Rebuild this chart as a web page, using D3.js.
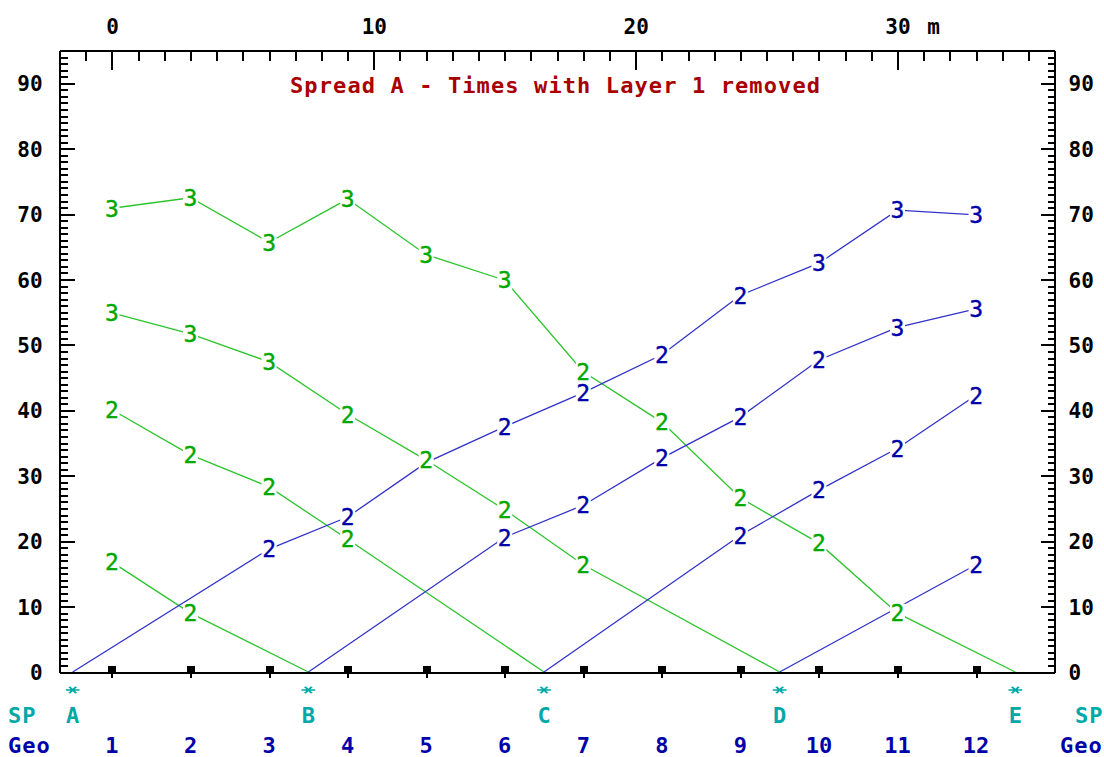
<!DOCTYPE html>
<html>
<head>
<meta charset="utf-8">
<script src="https://cdn.jsdelivr.net/npm/d3@7"></script>
<style>
  body { margin: 0; background: #fff; }
  svg { display: block; }
</style>
</head>
<body>
<svg id="chart" width="1104" height="757"></svg>
<script>
// ---- data -------------------------------------------------------------
const distTicks = [0, 10, 20, 30];                 // metres along the spread
const timeTicks = [0, 10, 20, 30, 40, 50, 60, 70, 80, 90]; // ms
const geophones = [1, 2, 3, 4, 5, 6, 7, 8, 9, 10, 11, 12];
const geophonePos = [0, 3, 6, 9, 12, 15, 18, 21, 24, 27, 30, 33];
const shotNames = ["A", "B", "C", "D", "E"];
const shotPos = [-1.5, 7.5, 16.5, 25.5, 34.5];

// arrival times (ms) at geophones 1..12 for each shot, null = layer 1 pick removed
const timesA = [null, null, 18.8, 23.7, 32.0, 37.5, 42.7, 48.5, 57.6, 62.5, 70.6, 69.9];
const timesB = [16.8, 9.0, null, null, null, 20.6, 25.5, 32.7, 39.0, 47.7, 52.7, 55.5];
const timesC = [40.1, 33.2, 28.3, 20.3, null, null, null, null, 20.9, 27.8, 34.2, 42.3];
const timesD = [54.9, 51.7, 47.4, 39.4, 32.4, 24.8, 16.4, null, null, null, null, 16.4];
const timesE = [70.9, 72.5, 65.7, 72.3, 63.8, 59.9, 45.9, 38.2, 26.6, 19.7, 9.0, null];

// refractor layer assigned to each pick (0 = no layer number printed)
const layersA = [0, 0, 2, 2, 0, 2, 2, 2, 2, 3, 3, 3];
const layersB = [2, 2, 0, 0, 0, 2, 2, 2, 2, 2, 3, 3];
const layersC = [2, 2, 2, 2, 0, 0, 0, 0, 2, 2, 2, 2];
const layersD = [3, 3, 3, 2, 2, 2, 2, 0, 0, 0, 0, 2];
const layersE = [3, 3, 3, 3, 3, 3, 2, 2, 2, 2, 2, 0];

const allTimes = [timesA, timesB, timesC, timesD, timesE];
const allLayers = [layersA, layersB, layersC, layersD, layersE];

// ---- layout -----------------------------------------------------------
const svg = d3.select("#chart");
const x = d3.scaleLinear().domain([-2, 36]).range([59.6, 1054.6]);
const y = d3.scaleLinear().domain([0, 95]).range([672, 50.6]);

const MONO = "'DejaVu Sans Mono', 'Liberation Mono', monospace";
const BLUE_TXT = "#0000a8", BLUE_LN = "#3232c8";
const GREEN_TXT = "#00a800", GREEN_LN = "#2cc42c";
const TEAL = "#00a8a8", RED = "#a80000";

// ---- series: forward (blue) and reverse (green) branches for each shot -
const branches = [];
shotNames.forEach((name, s) => {
  const picks = [];
  geophones.forEach((g, i) => {
    const t = allTimes[s][i];
    if (t != null) picks.push({ d: geophonePos[i], t, layer: allLayers[s][i] });
  });
  const origin = { d: shotPos[s], t: 0 };
  const fwd = picks.filter(p => p.d > shotPos[s]);
  const rev = picks.filter(p => p.d < shotPos[s]);
  if (rev.length) branches.push({ dir: "rev", pts: [...rev, origin], picks: rev });
  if (fwd.length) branches.push({ dir: "fwd", pts: [origin, ...fwd], picks: fwd });
});

const line = d3.line().x(p => x(p.d)).y(p => y(p.t));
const gLines = svg.append("g");
["rev", "fwd"].forEach(dir => {
  gLines.selectAll(null)
    .data(branches.filter(b => b.dir === dir))
    .enter().append("path")
    .attr("d", b => line(b.pts))
    .attr("fill", "none")
    .attr("stroke", dir === "fwd" ? BLUE_LN : GREEN_LN)
    .attr("stroke-width", 1.3);
});

// ---- axes -------------------------------------------------------------
const minorX = d3.range(-1, 36).filter(v => v % 10 !== 0);
const minorY = d3.range(1, 95).filter(v => v % 10 !== 0);

function styleAxis(g) {
  g.selectAll("path.domain").attr("stroke", "#000").attr("stroke-width", 2);
  g.selectAll(".tick line").attr("stroke", "#000").attr("stroke-width", 2);
  g.selectAll("text")
    .attr("font-family", MONO).attr("font-weight", "bold")
    .attr("font-size", 21).attr("fill", "#000");
  g.attr("shape-rendering", "crispEdges");
}

// top distance axis
svg.append("g").attr("transform", `translate(0,${y(95)})`)
  .call(d3.axisTop(x).tickValues(minorX).tickSize(-10).tickSizeOuter(0).tickFormat(""))
  .call(styleAxis);
const topAx = svg.append("g").attr("transform", `translate(0,${y(95)})`)
  .call(d3.axisTop(x).tickValues(distTicks).tickSize(-19).tickSizeOuter(0).tickPadding(17).tickFormat(d3.format("d")))
  .call(styleAxis);
topAx.selectAll("text").attr("dy", 0);
svg.append("text")
  .attr("x", x(30) + 36).attr("y", y(95) - 17)
  .attr("text-anchor", "middle")
  .attr("font-family", MONO).attr("font-weight", "bold").attr("font-size", 21)
  .text("m");

// left and right time axes
[["left", d3.axisLeft, x(-2), 15, 8, 17], ["right", d3.axisRight, x(36), 14, 7, 14]].forEach(([side, axisFn, px, major, minor, pad]) => {
  svg.append("g").attr("transform", `translate(${px},0)`)
    .call(axisFn(y).tickValues(minorY).tickSize(-minor).tickSizeOuter(0).tickFormat(""))
    .call(styleAxis);
  const ax = svg.append("g").attr("transform", `translate(${px},0)`)
    .call(axisFn(y).tickValues(timeTicks.filter(v => v > 0)).tickSize(-major).tickSizeOuter(0).tickPadding(pad).tickFormat(d3.format("d")))
    .call(styleAxis);
  ax.selectAll("text").attr("dy", "0.36em");
  ax.append("text").attr("x", side === "left" ? -pad : pad).attr("y", y(0)).attr("dy", "0.36em")
    .attr("text-anchor", side === "left" ? "end" : "start")
    .attr("font-family", MONO).attr("font-weight", "bold").attr("font-size", 21).attr("fill", "#000")
    .text("0");
});

// bottom axis with geophone stations
const bottom = svg.append("g").attr("transform", `translate(0,${y(0)})`)
  .call(d3.axisBottom(x).tickValues(geophonePos).tickSize(6).tickSizeOuter(0).tickFormat(""))
  .call(styleAxis);
bottom.selectAll(".tick").append("rect")
  .attr("x", -4).attr("y", -6).attr("width", 8).attr("height", 7).attr("fill", "#000");

// ---- pick labels (layer numbers), each on a cleared character cell -------
["fwd", "rev"].forEach(dir => {
  const picks = branches.filter(b => b.dir === dir).flatMap(b => b.picks).filter(p => p.layer > 0);
  const cells = svg.append("g").selectAll("g").data(picks).enter().append("g")
    .attr("transform", p => `translate(${x(p.d)},${y(p.t)})`);
  cells.append("rect")
    .attr("x", -7.5).attr("y", -9.5).attr("width", 15).attr("height", 19)
    .attr("fill", "#fff");
  cells.append("text")
    .attr("dy", "0.36em")
    .attr("text-anchor", "middle")
    .attr("font-family", MONO).attr("font-size", 23)
    .attr("fill", dir === "fwd" ? BLUE_TXT : GREEN_TXT)
    .attr("stroke", dir === "fwd" ? BLUE_TXT : GREEN_TXT).attr("stroke-width", 0.4)
    .text(p => p.layer);
});

// ---- title --------------------------------------------------------------
svg.append("text")
  .attr("x", 290).attr("y", 93)
  .attr("textLength", 530).attr("lengthAdjust", "spacing")
  .attr("font-family", MONO).attr("font-weight", "bold").attr("font-size", 22)
  .attr("fill", RED)
  .text("Spread A - Times with Layer 1 removed");

// ---- shot points and geophone numbers ----------------------------------
const star = d3.symbol().type(d3.symbolAsterisk).size(110);
svg.append("g").selectAll("path").data(shotPos).enter().append("path")
  .attr("d", star)
  .attr("transform", d => `translate(${x(d)},690) rotate(90) scale(0.6,1.1)`)
  .attr("fill", "none").attr("stroke", TEAL).attr("stroke-width", 2.2);

const bottomText = (g, data, yy, color) => g.selectAll(null).data(data).enter().append("text")
  .attr("y", yy).attr("dy", "0.36em")
  .attr("font-family", MONO).attr("font-weight", "bold").attr("font-size", 22)
  .attr("fill", color);

const gb = svg.append("g");
bottomText(gb, shotNames, 715, TEAL)
  .attr("x", (d, i) => x(shotPos[i])).attr("text-anchor", "middle").text(d => d);
bottomText(gb, geophones, 745, BLUE_TXT)
  .attr("x", (d, i) => x(geophonePos[i])).attr("text-anchor", "middle").text(d => d);
bottomText(gb, [8, 1075], 715, TEAL)
  .attr("x", d => d).attr("letter-spacing", 1).text("SP");
bottomText(gb, [8, 1060], 745, BLUE_TXT)
  .attr("x", d => d).attr("letter-spacing", 1).text("Geo");
</script>
</body>
</html>
